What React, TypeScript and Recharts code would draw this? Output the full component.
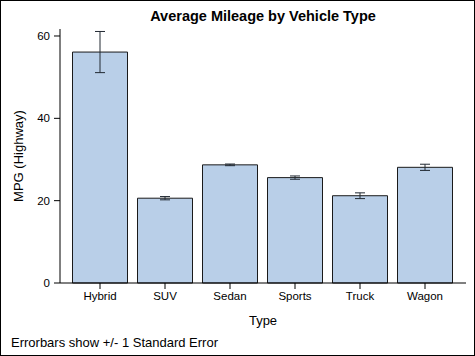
import React from 'react';
import { BarChart, Bar, XAxis, YAxis, ErrorBar } from 'recharts';

const types = ['Hybrid', 'SUV', 'Sedan', 'Sports', 'Truck', 'Wagon'];
const mpgHighway = [56.1, 20.6, 28.7, 25.6, 21.2, 28.1];
const stdErr = [5.0, 0.4, 0.2, 0.4, 0.7, 0.75];
const yTicks = [0, 20, 40, 60];

const data = types.map((t, i) => ({ type: t, mpg: mpgHighway[i], err: stdErr[i] }));

const FONT = '"Liberation Sans", Arial, Helvetica, sans-serif';

export default function App() {
  return (
    <div
      style={{
        position: 'absolute',
        left: 0,
        top: 0,
        width: 475,
        height: 356,
        boxSizing: 'border-box',
        border: '1px solid #000',
        background: '#fff',
        fontFamily: FONT,
        overflow: 'hidden',
      }}
    >
      <div style={{ position: 'absolute', left: -1, top: -1 }}>
        <BarChart
          width={475}
          height={356}
          data={data}
          margin={{ top: 29, right: 9, left: 0, bottom: 0 }}
          barCategoryGap={5}
        >
          <XAxis
            dataKey="type"
            height={73}
            padding={{ left: 7.5, right: 8.5 }}
            tickSize={6}
            tickMargin={3}
            axisLine={{ stroke: '#000' }}
            tickLine={{ stroke: '#000' }}
            tick={{ fill: '#000', fontSize: 11.5, fontFamily: FONT }}
            interval={0}
          />
          <XAxis
            xAxisId="top"
            dataKey="type"
            orientation="top"
            height={0}
            tick={false}
            tickLine={false}
            axisLine={{ stroke: '#000' }}
          />
          <YAxis
            width={60}
            domain={[0, 61.7]}
            ticks={yTicks}
            tickSize={6}
            tickMargin={4}
            axisLine={{ stroke: '#000' }}
            tickLine={{ stroke: '#000' }}
            tick={{ fill: '#000', fontSize: 11.5, fontFamily: FONT }}
          />
          <YAxis
            yAxisId="right"
            orientation="right"
            width={0}
            domain={[0, 61.7]}
            tick={false}
            tickLine={false}
            axisLine={{ stroke: '#000' }}
          />
          <Bar dataKey="mpg" fill="#B9CFE8" stroke="#1a1a1a" strokeWidth={1} isAnimationActive={false}>
            <ErrorBar dataKey="err" width={5} stroke="#222a33" strokeWidth={1} isAnimationActive={false} />
          </Bar>
        </BarChart>
      </div>
      <div
        style={{
          position: 'absolute',
          left: 59,
          width: 406,
          top: 7,
          textAlign: 'center',
          fontWeight: 'bold',
          fontSize: 14.5,
          color: '#000',
          whiteSpace: 'nowrap',
        }}
      >
        Average Mileage by Vehicle Type
      </div>
      <div
        style={{
          position: 'absolute',
          left: 17,
          top: 155,
          transform: 'translate(-50%, -50%) rotate(-90deg)',
          fontSize: 13,
          color: '#000',
          whiteSpace: 'nowrap',
        }}
      >
        MPG (Highway)
      </div>
      <div
        style={{
          position: 'absolute',
          left: 59,
          width: 406,
          top: 312,
          textAlign: 'center',
          fontSize: 13,
          color: '#000',
          whiteSpace: 'nowrap',
        }}
      >
        Type
      </div>
      <div
        style={{
          position: 'absolute',
          left: 10,
          top: 334,
          fontSize: 13,
          color: '#000',
          whiteSpace: 'nowrap',
        }}
      >
        Errorbars show +/- 1 Standard Error
      </div>
    </div>
  );
}
